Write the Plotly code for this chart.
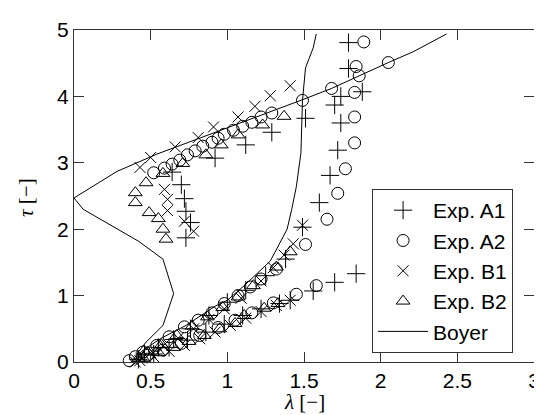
import plotly.graph_objects as go

# Exp. A1 (+)
a1_x = [0.42, 0.46, 0.52, 0.55, 0.62, 0.65, 0.74, 0.76, 0.86, 0.88, 0.98, 1.00, 1.10, 1.12, 1.22, 1.25, 1.34, 1.38, 1.41, 1.49, 1.56, 1.70, 1.84,
        1.60, 1.67, 1.72, 1.74, 1.70, 1.74, 1.88, 1.79, 1.79, 1.51,
        0.64, 0.70, 0.72, 0.73, 0.76, 0.73, 0.92, 1.12, 1.29]
a1_y = [0.04, 0.12, 0.12, 0.22, 0.22, 0.34, 0.33, 0.50, 0.45, 0.70, 0.57, 0.90, 0.70, 1.08, 0.80, 1.30, 0.88, 1.55, 0.93, 2.03, 1.07, 1.20, 1.33,
        2.40, 2.81, 3.19, 3.60, 3.87, 4.00, 4.07, 4.42, 4.81, 3.67,
        2.86, 2.67, 2.46, 2.27, 2.10, 1.87, 3.07, 3.27, 3.46]

# Exp. A2 (o)
a2_x = [0.36, 0.40, 0.45, 0.54, 0.62, 0.72, 0.81, 0.90, 0.98, 1.07, 1.15, 1.22, 1.32,
        0.48, 0.58, 0.70, 0.82, 0.94, 1.05, 1.16, 1.30, 1.45, 1.58,
        1.51, 1.65, 1.72, 1.77, 1.83, 1.83, 1.83, 1.86, 1.84, 1.89, 2.05, 1.68, 1.49,
        0.52, 0.59, 0.64, 0.69, 0.74, 0.79, 0.84, 0.90, 0.94, 0.98, 1.04, 1.10, 1.16, 1.22, 1.29]
a2_y = [0.02, 0.08, 0.15, 0.25, 0.38, 0.53, 0.63, 0.74, 0.88, 1.00, 1.13, 1.25, 1.40,
        0.10, 0.18, 0.28, 0.40, 0.52, 0.63, 0.74, 0.89, 1.02, 1.15,
        1.77, 2.15, 2.54, 2.91, 3.30, 3.69, 4.06, 4.31, 4.45, 4.82, 4.51, 4.12, 3.94,
        2.85, 2.92, 2.98, 3.04, 3.12, 3.18, 3.25, 3.31, 3.37, 3.43, 3.49, 3.55, 3.61, 3.69, 3.75]

# Exp. B1 (x)
b1_x = [0.40, 0.44, 0.50, 0.58, 0.68, 0.78, 0.88, 0.98, 1.09, 1.22, 1.30, 1.37, 1.43, 1.49,
        0.43, 0.52, 0.62, 0.72, 0.82, 0.92, 1.02, 1.12, 1.22, 1.32, 1.41,
        0.78, 0.72, 0.61, 0.61, 0.59,
        0.43, 0.50, 0.66, 0.81, 0.91, 1.07, 1.18, 1.28, 1.41]
b1_y = [0.00, 0.06, 0.14, 0.24, 0.36, 0.50, 0.64, 0.80, 0.96, 1.22, 1.42, 1.61, 1.78, 2.06,
        0.02, 0.08, 0.16, 0.25, 0.35, 0.45, 0.55, 0.66, 0.76, 0.85, 0.93,
        1.97, 2.12, 2.28, 2.45, 2.60,
        2.93, 3.08, 3.24, 3.38, 3.54, 3.69, 3.85, 4.01, 4.16]

# Exp. B2 (triangle)
b2_x = [0.42, 0.48, 0.57, 0.67, 0.77, 0.87, 0.97, 1.07, 1.17, 1.32, 1.41,
        0.45, 0.55, 0.65, 0.75, 0.85, 0.95, 1.05, 1.11, 1.24, 1.33,
        0.60, 0.58, 0.55, 0.49, 0.40, 0.40, 0.47,
        0.58, 0.71, 0.86, 0.96, 1.07, 1.23, 1.37]
b2_y = [0.05, 0.15, 0.26, 0.40, 0.54, 0.68, 0.82, 0.98, 1.15, 1.43, 1.66,
        0.06, 0.14, 0.22, 0.31, 0.40, 0.50, 0.58, 0.70, 0.81, 0.88,
        1.85, 2.00, 2.16, 2.25, 2.40, 2.55, 2.70,
        2.84, 2.99, 3.12, 3.27, 3.42, 3.57, 3.70]

# Boyer
boyer_x = [2.43, 2.21, 2.05, 1.68, 1.49, 0.54, 0.28, 0.00, 0.06, 0.42, 0.58, 0.65, 0.58, 0.47, 0.42, 0.40,
           0.44, 0.57, 0.73, 0.92, 1.00, 1.11, 1.28, 1.39, 1.42, 1.45, 1.48, 1.49, 1.51, 1.56, 1.58]
boyer_y = [4.94, 4.67, 4.51, 4.12, 3.95, 3.13, 2.87, 2.47, 2.30, 1.82, 1.55, 1.03, 0.55, 0.30, 0.15, 0.03,
           0.16, 0.36, 0.55, 0.84, 0.93, 1.15, 1.52, 2.00, 2.30, 2.64, 3.15, 3.94, 4.43, 4.73, 4.94]

x_ticks = [0, 0.5, 1, 1.5, 2, 2.5, 3]
x_tick_labels = ["0", "0.5", "1", "1.5", "2", "2.5", "3"]
y_ticks = [0, 1, 2, 3, 4, 5]
y_tick_labels = ["0", "1", "2", "3", "4", "5"]

fig = go.Figure()

def add_markers(x, y, name, symbol, size):
    fig.add_trace(go.Scatter(
        x=x, y=y, mode="markers", name=name, cliponaxis=False,
        marker=dict(symbol=symbol, size=size, color="black",
                    line=dict(color="black", width=1)),
    ))

add_markers(a1_x, a1_y, "Exp. A1", "cross-thin-open", 13)
add_markers(a2_x, a2_y, "Exp. A2", "circle-open", 12)
add_markers(b1_x, b1_y, "Exp. B1", "x-thin-open", 11)
add_markers(b2_x, b2_y, "Exp. B2", "triangle-up-open", 12)

fig.add_trace(go.Scatter(
    x=boyer_x, y=boyer_y, mode="lines", name="Boyer",
    line=dict(color="black", width=1),
))

axis_common = dict(
    showgrid=False, zeroline=False, showline=True, linecolor="#333",
    linewidth=1, mirror="ticks", ticks="inside", ticklen=10,
    tickcolor="#333", tickwidth=1,
    tickfont=dict(family="Liberation Sans, Arial", size=21, color="black"),
)

title_font = dict(family="Liberation Serif, Times New Roman", size=21, color="black")

fig.update_layout(
    width=542, height=415,
    margin=dict(l=66, r=10, t=19, b=61),
    paper_bgcolor="white", plot_bgcolor="white",
    xaxis=dict(range=[0, 3], tickvals=x_ticks, ticktext=x_tick_labels, **axis_common),
    yaxis=dict(range=[0, 5], tickvals=y_ticks, ticktext=y_tick_labels, **axis_common),
    legend=dict(
        x=0.648, y=0.521, xanchor="left", yanchor="top",
        bordercolor="#333", borderwidth=1, bgcolor="white",
        font=dict(family="Liberation Sans, Arial", size=21, color="black"),
        itemwidth=50, tracegroupgap=0,
    ),
    annotations=[
        dict(text="<i>λ</i> [−]", xref="paper", yref="paper", x=0.5, y=-0.12,
             xanchor="center", yanchor="middle", showarrow=False, font=title_font),
        dict(text="<i>τ</i> [−]", xref="paper", yref="paper", x=-0.103, y=0.496,
             xanchor="center", yanchor="middle", showarrow=False, textangle=-90,
             font=title_font),
    ],
)

fig.write_html("out.html")
